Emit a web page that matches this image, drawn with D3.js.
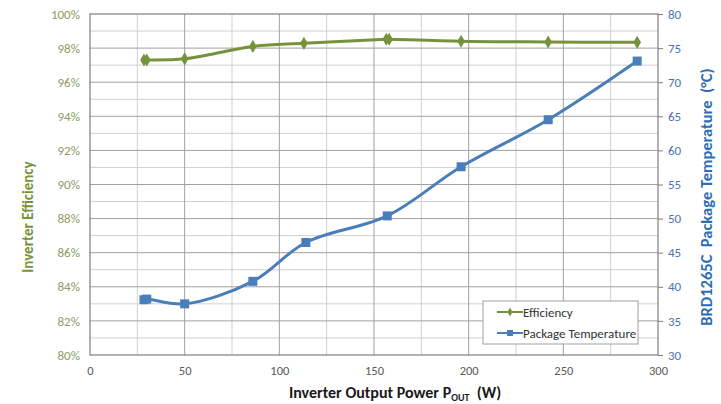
<!DOCTYPE html>
<html>
<head>
<meta charset="utf-8">
<script src="https://cdn.jsdelivr.net/npm/d3@7"></script>
<style>
  body { margin: 0; background: #fff; }
  svg text { font-family: Calibri, Carlito, "Liberation Sans", Arial, sans-serif; }
</style>
</head>
<body>
<div id="chart"></div>
<script>
// inverter output power (W) for each series
const effPower = [28.5, 30, 50, 86, 113, 156.5, 158, 196, 242, 289];
const efficiency = [97.3, 97.3, 97.37, 98.1, 98.28, 98.52, 98.52, 98.4, 98.36, 98.34];
const tempPower = [28.5, 30, 50, 86, 114, 157, 196, 242, 289];
const temperature = [38.1, 38.2, 37.5, 40.8, 46.5, 50.4, 57.6, 64.5, 73.1];

const xTicks = [0, 50, 100, 150, 200, 250, 300];
const effTicks = [80, 82, 84, 86, 88, 90, 92, 94, 96, 98, 100];
const tempTicks = [30, 35, 40, 45, 50, 55, 60, 65, 70, 75, 80];

const W = 721, H = 404;
const margin = { top: 14, right: 63, bottom: 49, left: 90 };
const width = W - margin.left - margin.right;
const height = H - margin.top - margin.bottom;

const green = '#76923c', blue = '#4a7ebb';

const svg = d3.select('#chart').append('svg').attr('width', W).attr('height', H);
const chart = svg.append('g').attr('transform', `translate(${margin.left},${margin.top})`);

const x = d3.scaleLinear().domain([0, 300]).range([0, width]);
const yL = d3.scaleLinear().domain([80, 100]).range([height, 0]);
const yR = d3.scaleLinear().domain([30, 80]).range([height, 0]);

// gridlines: minor every 25 W / 1 %, major every 50 W / 2 %
const grid = chart.append('g');
grid.selectAll('.vminor').data(d3.range(25, 300, 50)).enter().append('line')
  .attr('x1', d => x(d)).attr('x2', d => x(d)).attr('y1', 0).attr('y2', height)
  .attr('stroke', '#d0d0d0').attr('stroke-width', 1);
grid.selectAll('.hminor').data(d3.range(81, 100, 2)).enter().append('line')
  .attr('x1', 0).attr('x2', width).attr('y1', d => yL(d)).attr('y2', d => yL(d))
  .attr('stroke', '#d0d0d0').attr('stroke-width', 1);
grid.selectAll('.vmajor').data(xTicks.slice(1, -1)).enter().append('line')
  .attr('x1', d => x(d)).attr('x2', d => x(d)).attr('y1', 0).attr('y2', height)
  .attr('stroke', '#a0a0a0').attr('stroke-width', 1);
grid.selectAll('.hmajor').data(effTicks.slice(1, -1)).enter().append('line')
  .attr('x1', 0).attr('x2', width).attr('y1', d => yL(d)).attr('y2', d => yL(d))
  .attr('stroke', '#a0a0a0').attr('stroke-width', 1);

chart.append('rect').attr('width', width).attr('height', height)
  .attr('fill', 'none').attr('stroke', '#7f7f7f').attr('stroke-width', 1.2);

// axes
const xAxis = chart.append('g').attr('transform', `translate(0,${height})`)
  .call(d3.axisBottom(x).tickValues(xTicks).tickSize(0).tickPadding(11));
const lAxis = chart.append('g')
  .call(d3.axisLeft(yL).tickValues(effTicks).tickSize(0).tickPadding(10).tickFormat(d => d + '%'));
const rAxis = chart.append('g').attr('transform', `translate(${width},0)`)
  .call(d3.axisRight(yR).tickValues(tempTicks).tickSize(5).tickPadding(5));
[xAxis, lAxis, rAxis].forEach(a => a.select('.domain').remove());
xAxis.selectAll('text').attr('fill', '#595959').style('font-size', '12.5px');
lAxis.selectAll('text').attr('fill', '#8c9a63').style('font-size', '13px');
rAxis.selectAll('text').attr('fill', '#4a74b0').style('font-size', '13px');
rAxis.selectAll('line').attr('stroke', '#7f7f7f');

// series
const line = (xs, ys, yScale) => d3.line()
  .x((d, i) => x(xs[i])).y(d => yScale(d))
  .curve(d3.curveCatmullRom.alpha(0.5))(ys);

chart.append('path').attr('d', line(effPower, efficiency, yL))
  .attr('fill', 'none').attr('stroke', green).attr('stroke-width', 3);
chart.append('path').attr('d', line(tempPower, temperature, yR))
  .attr('fill', 'none').attr('stroke', blue).attr('stroke-width', 3);

chart.selectAll('.eff').data(efficiency).enter().append('path')
  .attr('transform', (d, i) => `translate(${x(effPower[i])},${yL(d)})`)
  .attr('d', d3.symbol(d3.symbolDiamond, 50)).attr('fill', green);
chart.selectAll('.temp').data(temperature).enter().append('rect')
  .attr('x', (d, i) => x(tempPower[i]) - 4.5).attr('y', d => yR(d) - 4.5)
  .attr('width', 9).attr('height', 9).attr('fill', blue);

// legend
const lg = svg.append('g').attr('transform', 'translate(483,301)');
lg.append('rect').attr('width', 155).attr('height', 43)
  .attr('fill', '#fff').attr('stroke', '#a0a0a0');
const items = [['Efficiency', green, 'diamond'], ['Package Temperature', blue, 'square']];
items.forEach((it, i) => {
  const g = lg.append('g').attr('transform', `translate(0,${11 + i * 21})`);
  g.append('line').attr('x1', 14).attr('x2', 40).attr('stroke', it[1]).attr('stroke-width', 2);
  if (it[2] === 'diamond') {
    g.append('path').attr('transform', 'translate(27,0)')
      .attr('d', d3.symbol(d3.symbolDiamond, 24)).attr('fill', it[1]);
  } else {
    g.append('rect').attr('x', 24).attr('y', -3).attr('width', 6).attr('height', 6).attr('fill', it[1]);
  }
  g.append('text').attr('x', 40).attr('dy', '0.35em').attr('fill', '#333')
    .style('font-size', '13px').text(it[0]);
});

// axis titles
const xt = svg.append('text').attr('x', 395).attr('y', 398).attr('text-anchor', 'middle')
  .attr('fill', '#1a1a1a').style('font-size', '16px').style('font-weight', 'bold');
xt.append('tspan').text('Inverter Output Power P');
xt.append('tspan').attr('dy', 3).style('font-size', '10px').text('OUT');
xt.append('tspan').attr('dy', -3).style('white-space', 'pre').text('  (W)');

svg.append('text').attr('transform', 'translate(33,217) rotate(-90)')
  .attr('text-anchor', 'middle').attr('fill', green)
  .style('font-size', '15px').style('font-weight', 'bold').text('Inverter Efficiency');
svg.append('text').attr('transform', 'translate(712,197) rotate(-90)')
  .attr('text-anchor', 'middle').attr('fill', '#2e6db4').style('white-space', 'pre')
  .style('font-size', '16.5px').style('font-weight', 'bold')
  .text('BRD1265C  Package Temperature  (°C)');
</script>
</body>
</html>
